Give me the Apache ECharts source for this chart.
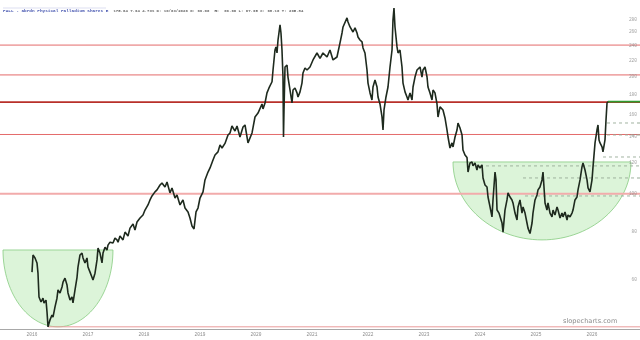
<!DOCTYPE html>
<html><head><meta charset="utf-8">
<script src="https://cdn.jsdelivr.net/npm/echarts@6/dist/echarts.min.js"></script>
<style>html,body{margin:0;padding:0;background:#fff}#c{width:640px;height:340px}</style>
</head><body><div id="c"></div>
<script>
// ---- data (decimal years on x, price on log y) ----
const times = [
2016.000,2016.018,2016.054,2016.089,2016.107,2016.125,2016.161,2016.196,2016.214,2016.250,2016.268,2016.286,2016.321,2016.357,2016.375,2016.411,2016.446,2016.464,2016.500,2016.536,2016.554,2016.589,2016.625,2016.643,2016.679,2016.714,2016.732,2016.768,2016.804,2016.821,2016.857,2016.893,2016.911,2016.946,2016.982,2017.000,2017.036,2017.071,2017.089,2017.125,2017.161,2017.179,2017.214,2017.250,2017.268,2017.304,2017.339,2017.357,2017.393,2017.446,2017.482,2017.518,2017.536,
2017.571,2017.625,2017.661,2017.714,2017.750,2017.804,2017.839,2017.875,2017.929,2017.982,2018.018,2018.071,2018.107,2018.143,2018.196,2018.232,2018.286,2018.321,2018.375,2018.411,2018.464,2018.500,2018.554,2018.589,2018.643,2018.696,2018.732,2018.786,2018.821,2018.857,2018.893,2018.929,2018.964,2019.000,2019.054,2019.089,2019.143,2019.179,2019.232,2019.268,2019.321,2019.357,2019.393,2019.446,2019.500,2019.536,2019.571,2019.625,2019.661,
2019.714,2019.768,2019.804,2019.857,2019.929,2019.982,2020.036,2020.107,2020.125,2020.161,2020.196,2020.232,2020.286,2020.304,2020.339,2020.357,2020.375,2020.393,2020.429,2020.446,2020.464,2020.482,2020.491,2020.500,2020.518,2020.554,2020.571,2020.607,2020.643,2020.661,2020.696,2020.732,2020.750,2020.786,2020.821,2020.839,2020.875,2020.911,2020.964,2021.018,2021.089,2021.143,2021.196,2021.268,2021.321,2021.375,2021.446,2021.500,2021.536,2021.554,2021.625,2021.643,2021.679,2021.732,2021.768,2021.804,2021.821,2021.857,2021.893,2021.911,2021.946,2021.982,2022.000,2022.036,2022.071,2022.089,2022.125,2022.161,2022.179,2022.214,2022.250,2022.268,2022.286,2022.321,2022.357,2022.393,2022.429,2022.446,2022.464,2022.482,2022.518,2022.536,2022.571,2022.607,2022.625,2022.661,2022.696,2022.714,2022.750,2022.786,2022.804,2022.839,2022.875,2022.929,2022.964,2022.982,2023.018,2023.054,2023.071,2023.107,2023.143,2023.161,2023.196,2023.232,2023.250,
2023.286,2023.321,2023.339,2023.375,2023.411,2023.429,2023.464,2023.500,2023.518,2023.554,2023.589,2023.607,2023.643,2023.679,2023.696,2023.732,2023.768,2023.786,2023.821,2023.857,2023.875,2023.911,2023.946,2023.964,2024.000,2024.036,2024.054,2024.089,2024.125,2024.143,2024.179,2024.214,2024.232,2024.268,2024.286,2024.304,2024.339,2024.393,2024.411,2024.446,2024.482,2024.500,2024.536,2024.571,2024.589,2024.625,2024.661,2024.679,2024.714,2024.750,2024.768,2024.804,2024.839,2024.857,2024.893,2024.929,2024.946,2024.982,2025.018,2025.036,2025.071,2025.107,2025.125,2025.161,2025.196,2025.214,2025.250,2025.286,2025.304,2025.339,2025.375,2025.393,2025.429,2025.464,2025.482,2025.518,2025.554,2025.571,2025.607,2025.643,2025.661,2025.696,2025.732,2025.750,2025.786,2025.821,2025.839,2025.875,2025.911,2025.929,2025.964,2026.000,2026.018,2026.054,2026.089,2026.107,2026.125,2026.143,2026.179,2026.196,2026.232,2026.250,2026.268,2026.286
];
const closes = [
62.9,69.6,68.4,66.4,62.5,54.3,52.7,53.9,52.4,53.3,49.7,45.5,47.4,48.8,48.2,51.2,53.9,56.6,55.6,57.6,59.3,60.7,58.3,55.6,53.3,54.3,52.4,56.6,61.0,64.8,69.6,70.4,68.4,66.4,68.4,64.8,62.9,61.0,60.0,62.5,67.6,72.5,70.4,66.4,70.4,72.9,71.7,73.8,75.1,74.7,76.9,76.1,75.1,
77.9,76.1,79.7,77.9,81.6,83.6,80.7,84.6,86.6,88.2,90.8,93.6,96.4,98.7,101.1,102.3,105.3,106.6,104.1,107.2,100.5,103.5,97.5,99.3,93.6,96.4,91.9,89.8,86.6,82.6,81.2,89.8,91.9,97.5,101.1,108.5,113.7,116.5,122.1,125.8,128.1,133.5,131.1,134.7,141.6,143.3,149.3,144.9,149.3,
139.9,148.4,150.2,135.1,143.3,157.5,161.2,170.1,165.2,171.1,181.6,187.0,194.0,208.0,234.1,238.4,230.0,248.4,271.5,258.9,234.1,199.5,139.9,164.2,211.7,214.2,199.5,184.8,171.1,184.8,187.0,181.6,177.3,182.7,192.5,204.3,210.4,208.0,211.7,220.7,230.0,222.8,230.0,224.6,234.1,220.7,224.6,244.1,258.9,268.3,283.0,276.2,268.3,260.4,266.8,258.9,252.9,248.4,245.7,237.0,230.0,208.0,192.5,181.6,174.2,188.1,196.0,188.1,177.3,170.1,157.5,145.8,164.2,177.3,188.1,211.7,234.1,279.6,300.2,268.3,238.4,230.0,234.1,211.7,192.5,182.7,177.3,174.2,181.6,174.2,188.1,199.5,208.0,211.7,199.5,208.0,211.7,199.5,188.1,181.6,174.2,184.8,181.6,170.1,157.5,
167.2,169.1,164.2,156.6,145.8,139.9,131.1,135.1,131.9,139.9,145.8,152.0,147.5,141.6,129.6,125.8,123.9,113.7,120.0,120.7,117.9,120.0,115.1,118.6,116.5,118.6,109.8,105.3,104.1,98.1,92.5,87.2,96.4,113.7,108.5,90.8,89.2,84.1,79.7,90.8,96.4,100.5,98.1,96.4,94.7,89.2,85.6,92.5,96.4,89.2,92.5,89.2,84.1,81.6,79.0,84.1,89.2,96.4,99.3,102.3,104.1,108.5,113.7,94.7,90.8,94.7,89.2,87.2,90.8,88.2,92.5,90.8,86.6,89.2,87.2,89.8,85.6,88.2,87.2,89.2,90.8,96.4,98.1,102.3,108.5,117.2,120.0,115.1,108.5,103.5,101.1,108.5,117.2,135.1,145.8,150.2,137.5,135.1,131.9,128.1,137.5,154.7,171.1,172.5
];
const xTickYears = [2016,2017,2018,2019,2020,2021,2022,2023,2024,2025,2026];
const yTickValues = [60,80,100,120,140,160,180,200,220,240,260,280];
const redLevels = [241, 202, 142];
const keyLevel = 172;
const supportLevel = 100;
const baseLevel = [2016.286, 45.5];
const dashedLevels = [[2026.268,152.0],[2026.268,141.6],[2026.196,124.3],[2024.0,117.9],[2024.768,109.8],[2024.804,98.7]];
const lastPrice = [2026.286, 172.5];
const cups = [[2015.482, 2017.446, 71.7, 45.5],[2023.518, 2026.696, 120.7, 76.1]];
const titleName = 'PALL - abrdn Physical Palladium Shares E';
const titleQuote = '175.64 7.94 4.73% D: 10/03/2026 O: 69.00';
const titleRest = '69.66 L: 67.95 C: 68.10 T: 295.84';

const X_MIN = 2015.4286, X_MAX = 2026.857, Y_MIN = 44.92, Y_MAX = 314.7;

const chart = echarts.init(document.getElementById('c'), null, {renderer:'canvas'});
const lineSeriesData = times.map((t,i)=>[t, closes[i]]);
const mono = 'Liberation Mono';

// horizontal level drawn as a 2-point line series through the axes
const level = (x0, v, color, width, type) => ({
  type:'line', z:2, silent:true, symbol:'none', showSymbol:false,
  data:[[x0, v],[X_MAX, v]],
  lineStyle:{color:color, width:width, type:type||'solid', opacity:1},
  emphasis:{disabled:true}
});

chart.setOption({
  animation:false,
  backgroundColor:'#fff',
  title:{
    left:3, top:2, padding:0,
    text:'{a|'+titleName+'} {b|'+titleQuote+'} {c|H:} {b|'+titleRest+'}',
    textStyle:{rich:{
      a:{fontFamily:mono,fontSize:4.4,color:'#4656b0',fontWeight:'bold'},
      b:{fontFamily:mono,fontSize:4.0,color:'#666'},
      c:{fontFamily:mono,fontSize:4.0,color:'#333',fontWeight:'bold'}
    }}
  },
  graphic:[
    {type:'line',shape:{x1:3,y1:8,x2:106,y2:8},style:{stroke:'#c8cbe8',lineWidth:0.6},silent:true},
    {type:'text',left:563,top:318,style:{text:'slopecharts.com',fontFamily:'DejaVu Sans',fontSize:6.6,fill:'#8c8c8c'},silent:true}
  ],
  grid:{left:0,right:0,top:0,bottom:11},
  xAxis:{
    type:'value',min:X_MIN,max:X_MAX,
    axisLine:{show:true,lineStyle:{color:'#a8a8a8',width:1}},
    axisTick:{show:false},
    splitLine:{show:false},
    axisLabel:{customValues:xTickYears,formatter:v=>String(Math.round(v)),fontSize:4.5,color:'#8a8a8a',margin:3,fontFamily:mono}
  },
  yAxis:{
    type:'log',min:Y_MIN,max:Y_MAX,position:'right',
    axisLine:{show:false},axisTick:{show:false},splitLine:{show:false},splitArea:{show:false},
    axisLabel:{show:false}
  },
  series:[
    {
      type:'custom',z:1,data:cups,clip:true,
      encode:{x:[0,1],y:[2,3]},
      renderItem:(params,api)=>{
        const p0 = api.coord([api.value(0), api.value(2)]);
        const p1 = api.coord([api.value(1), api.value(3)]);
        const cx=(p0[0]+p1[0])/2, rx=(p1[0]-p0[0])/2, ry=p1[1]-p0[1];
        const pts=[];
        for(let k=0;k<=60;k++){const t=Math.PI*k/60;pts.push([cx+rx*Math.cos(t), p0[1]+ry*Math.sin(t)]);}
        return {type:'polygon',shape:{points:pts},style:{fill:'rgba(150,222,140,0.33)',stroke:'#86cc80',lineWidth:0.8}};
      }
    },
    ...redLevels.map(v=>level(X_MIN, v, '#e46a6a', 1)),
    level(X_MIN, keyLevel, '#b8302a', 1.8),
    level(X_MIN, supportLevel, '#f2abab', 2),
    level(baseLevel[0], baseLevel[1], '#e99a9a', 1),
    ...dashedLevels.map(d=>level(d[0], d[1], '#98ab97', 0.9, [3,3])),
    level(lastPrice[0], lastPrice[1], '#2e9a2e', 1.6),
    {
      type:'line',data:lineSeriesData,z:3,showSymbol:false,symbol:'none',
      lineStyle:{color:'#1e2a1e',width:1.6},silent:true,emphasis:{disabled:true}
    },
    {
      type:'scatter',z:4,silent:true,symbolSize:0,
      data:yTickValues.map(v=>[X_MAX,v]),
      label:{show:true,position:'left',distance:3,formatter:p=>String(p.value[1]),fontSize:4.5,color:'#8a8a8a',fontFamily:mono}
    }
  ]
});
</script></body></html>
